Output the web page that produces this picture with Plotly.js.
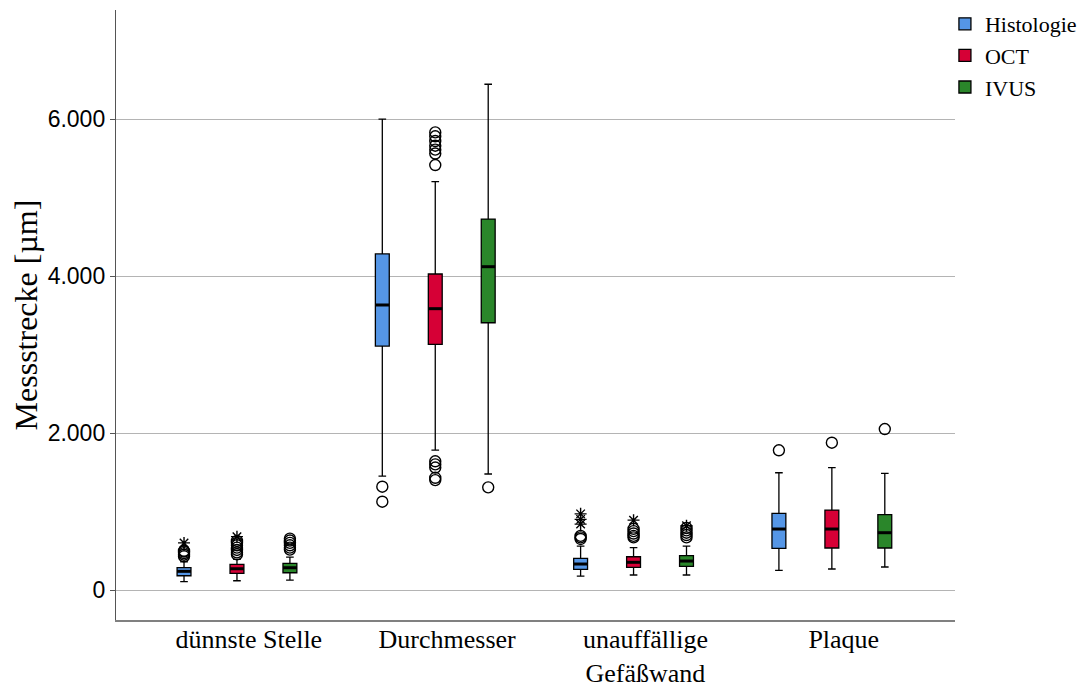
<!DOCTYPE html>
<html>
<head>
<meta charset="utf-8">
<script src="https://cdn.plot.ly/plotly-3.0.1.min.js"></script>
<style>html,body{margin:0;padding:0;background:#fff;}#chart{width:1088px;height:688px;}</style>
</head>
<body>
<div id="chart"></div>
<script>
// ---- data ----
var categories = ['dünnste Stelle', 'Durchmesser', 'unauffällige<br>Gefäßwand', 'Plaque'];
var seriesNames = ['Histologie', 'OCT', 'IVUS'];

var histQ1  = [182, 3108, 264, 531];
var histMed = [238, 3631, 331, 777];
var histQ3  = [284, 4281, 404, 977];
var histLo  = [106, 1452, 178, 251];
var histHi  = [360, 6000, 560, 1494];

var octQ1  = [213, 3130, 289, 535];
var octMed = [271, 3584, 353, 777];
var octQ3  = [327, 4026, 424, 1019];
var octLo  = [118, 1783, 191, 268];
var octHi  = [390, 5202, 540, 1558];

var ivusQ1  = [220, 3405, 302, 535];
var ivusMed = [284, 4119, 369, 730];
var ivusQ3  = [340, 4726, 437, 960];
var ivusLo  = [127, 1478, 191, 293];
var ivusHi  = [420, 6443, 560, 1486];

// outliers (circles) and extreme values (stars) per category
var histOut = [[430, 450, 470, 490, 500], [1316, 1125], [650, 670, 690], [1780]];
var histExt = [[600], [], [970, 900, 840], []];
var octOut  = [[455, 480, 510, 540, 570, 600, 625], [5414, 5560, 5610, 5660, 5720, 5780, 5830, 1640, 1600, 1560, 1430, 1400], [670, 690, 720, 750, 780], [1877]];
var octExt  = [[680], [], [890], []];
var ivusOut = [[515, 540, 570, 600, 630, 655], [1308], [670, 700, 730, 760, 790], [2051]];
var ivusExt = [[], [], [820], []];

var colors = ['#5596E6', '#D60036', '#2A862A'];

// ---- build ----
var offsets = [-0.267, 0, 0.267];
var boxW = 0.07;
var stats = [
  {q1: histQ1, med: histMed, q3: histQ3, lo: histLo, hi: histHi, out: histOut, ext: histExt},
  {q1: octQ1, med: octMed, q3: octQ3, lo: octLo, hi: octHi, out: octOut, ext: octExt},
  {q1: ivusQ1, med: ivusMed, q3: ivusQ3, lo: ivusLo, hi: ivusHi, out: ivusOut, ext: ivusExt}
];

var traces = [];
var extraTraces = [];
stats.forEach(function (s, si) {
  var xs = categories.map(function (c, ci) { return ci + offsets[si]; });
  traces.push({
    type: 'box', name: seriesNames[si], x: xs,
    q1: s.q1, median: s.med, q3: s.q3, lowerfence: s.lo, upperfence: s.hi,
    boxpoints: false, width: boxW, whiskerwidth: 0.55,
    fillcolor: colors[si], line: {color: '#000', width: 1.3},
    hoverinfo: 'skip'
  });
  // medians (thicker line)
  var mx = [], my = [];
  xs.forEach(function (x, i) { mx.push(x - boxW / 2, x + boxW / 2, null); my.push(s.med[i], s.med[i], null); });
  extraTraces.push({type: 'scatter', mode: 'lines', x: mx, y: my, line: {color: '#000', width: 3}, showlegend: false, hoverinfo: 'skip'});
  // outliers
  var ox = [], oy = [], ex = [], ey = [];
  xs.forEach(function (x, i) {
    s.out[i].forEach(function (v) { ox.push(x); oy.push(v); });
    s.ext[i].forEach(function (v) { ex.push(x); ey.push(v); });
  });
  extraTraces.push({type: 'scatter', mode: 'markers', x: ox, y: oy,
    marker: {symbol: 'circle-open', size: 11, color: '#000', line: {width: 1.4, color: '#000'}},
    showlegend: false, hoverinfo: 'skip'});
  extraTraces.push({type: 'scatter', mode: 'markers', x: ex, y: ey,
    marker: {symbol: 'asterisk-open', size: 10, color: '#000', line: {width: 1.4, color: '#000'}},
    showlegend: false, hoverinfo: 'skip'});
});

var layout = {
  width: 1088, height: 688,
  margin: {l: 116, r: 133, t: 10, b: 68, autoexpand: false},
  paper_bgcolor: '#fff', plot_bgcolor: '#fff',
  separators: ',.',
  showlegend: true,
  legend: {x: 0.988, y: 1.0115, xanchor: 'left', yanchor: 'top',
    font: {family: 'Liberation Serif', size: 22, color: '#000'},
    tracegroupgap: 0, itemwidth: 30, bgcolor: 'rgba(0,0,0,0)'},
  xaxis: {
    range: [-0.61, 3.621], tickmode: 'array',
    tickvals: categories.map(function (c, i) { return i + 0.06; }),
    ticktext: categories, automargin: false,
    showgrid: false, zeroline: false, ticks: '', ticklabelstandoff: -5,
    showline: true, linecolor: '#808080', linewidth: 1.5,
    tickfont: {family: 'Liberation Serif', size: 26, color: '#000'}
  },
  yaxis: {
    range: [-382, 7389], tickmode: 'array', tickvals: [0, 2000, 4000, 6000],
    tickformat: ',d', automargin: false,
    showgrid: true, gridcolor: '#b4b4b4', gridwidth: 1, zeroline: false,
    ticks: 'outside', ticklen: 5, tickcolor: '#555',
    showline: true, linecolor: '#555', linewidth: 1.2,
    tickfont: {family: 'Liberation Sans', size: 23, color: '#000'},
    title: {text: 'Messstrecke [µm]', standoff: 0, font: {family: 'Liberation Serif', size: 32, color: '#000'}}
  }
};

Plotly.newPlot('chart', traces.concat(extraTraces), layout, {displayModeBar: false, staticPlot: true});
</script>
</body>
</html>
